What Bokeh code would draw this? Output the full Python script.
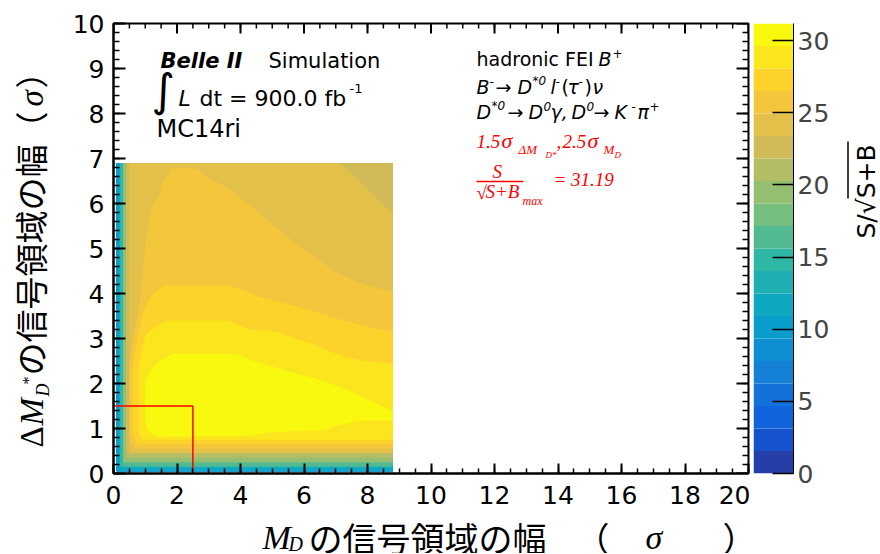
import math
from bokeh.plotting import figure
from bokeh.models import Range1d, Label, FixedTicker
from bokeh.layouts import row, column
from bokeh.embed import file_html
from bokeh.resources import INLINE

# ---------------- data ----------------
x_ticks = [0, 2, 4, 6, 8, 10, 12, 14, 16, 18, 20]
y_ticks = [0, 1, 2, 3, 4, 5, 6, 7, 8, 9, 10]
z_ticks = [0, 5, 10, 15, 20, 25, 30]

md_lo, md_hi = 0.1, 8.8          # M_D window scan range (sigma)
dmd_lo, dmd_hi = 0.05, 6.9       # Delta M_D* window scan range (sigma)
z_max = 31.19                    # maximum S/sqrt(S+B)
n_bands = 20                     # contour levels of the colour scale
best_md = 2.5
best_dmd = 1.5

# lower-left edge of the region where S/sqrt(S+B) >= level k (k = 0..15)
edge_left_x = [0.1, 0.1, 0.1, 0.1, 0.1, 0.1, 0.1, 0.2, 0.2, 0.2, 0.3, 0.3, 0.3, 0.4, 0.4, 0.5]
edge_bottom_y = [0.05, 0.05, 0.05, 0.05, 0.05, 0.05, 0.05, 0.05, 0.15, 0.15, 0.15, 0.25, 0.25, 0.35, 0.45, 0.45]

# top-right corner that stays below level 15
corner14_x = [7.1, 8.8, 8.8, 8.5, 8.0, 7.46]
corner14_y = [6.9, 6.9, 5.81, 5.96, 6.33, 6.7]

# contours of the regions above levels 16..19
c16_x = [0.5, 0.5, 0.6, 0.7, 0.8, 0.9, 1.0, 1.1, 1.2, 1.3, 1.45, 1.55, 1.7, 1.78, 2.62, 2.9, 3.4, 3.85,
         4.35, 4.85, 5.4, 6.15, 7.0, 7.7, 8.3, 8.8, 8.8, 0.7, 0.6]
c16_y = [0.75, 2.4, 2.9, 3.3, 3.6, 4.3, 5.1, 5.6, 5.9, 6.05, 6.2, 6.5, 6.62, 6.78, 6.78, 6.6, 6.42, 6.2,
         5.95, 5.62, 5.3, 4.9, 4.48, 4.25, 4.12, 4.03, 0.55, 0.55, 0.62]
c17_x = [0.6, 0.6, 0.7, 0.8, 0.9, 1.0, 1.15, 1.35, 1.6, 3.65, 4.0, 4.6, 5.45, 6.2, 6.75, 7.45, 7.8, 8.3,
         8.8, 8.8, 0.8, 0.7]
c17_y = [0.85, 2.4, 2.8, 3.15, 3.45, 3.7, 3.9, 4.05, 4.18, 4.18, 4.1, 3.92, 3.77, 3.62, 3.5, 3.36, 3.29,
         3.22, 3.15, 0.65, 0.65, 0.72]
c18_x = [0.8, 0.8, 0.9, 1.0, 1.2, 1.45, 1.7, 3.6, 4.3, 5.15, 5.7, 6.3, 6.75, 7.15, 7.8, 8.5, 8.8, 8.8,
         0.95, 0.85]
c18_y = [0.95, 2.4, 2.8, 3.05, 3.2, 3.32, 3.4, 3.4, 3.2, 3.15, 3.0, 2.88, 2.73, 2.62, 2.51, 2.46, 2.43,
         0.75, 0.75, 0.82]
c19_x = [1.0, 1.0, 1.1, 1.25, 1.45, 1.7, 1.9, 3.6, 4.0, 4.4, 5.0, 5.6, 6.3, 6.9, 7.4, 7.9, 8.3, 8.8, 8.8,
         7.7, 7.1, 6.6, 5.0, 4.3, 1.4, 1.2, 1.05]
c19_y = [1.15, 2.0, 2.2, 2.35, 2.5, 2.6, 2.66, 2.66, 2.62, 2.5, 2.38, 2.25, 2.12, 1.98, 1.85, 1.68, 1.55,
         1.38, 1.18, 1.18, 1.07, 0.96, 0.92, 0.84, 0.82, 0.88, 1.0]

# ---------------- style ----------------
band_colors = ["#263ea8", "#1652cd", "#1064dc", "#1272d9", "#1481d6", "#0e8fd1", "#099dcc", "#0fa8c1",
               "#1eafb3", "#2eb7a4", "#52ba92", "#76be7f", "#95be71", "#b3bd65", "#d1bb59", "#e3c049",
               "#f4c63b", "#fdd22b", "#fbe61d", "#f9f90f"]
SANS = "DejaVu Sans"
SERIF = "Liberation Serif"
CJK = "Noto Sans CJK JP"
RED = "#ff0000"
R = math.pi / 2
# shift (in em) that puts the label anchor on the alphabetic baseline
BASE_CORR = {SANS: 0.36, SERIF: 0.36, CJK: 0.41}

# page layout (pixels)
PAGE_H = 553
YT_W = 58                 # column holding the y title
MAIN_H = 520
FL, FR, FT, FB = 113, 748, 23, 473   # main frame on the page (shared by the row)
MAIN_W = FR + 2 - YT_W
XT_H = PAGE_H - MAIN_H    # strip holding the x title
CB_W = 88
CT_W = 42                 # strip holding the colour-bar title
X0 = YT_W                 # left page edge of main figure
CBL, CBR = 753, 793
CT0 = X0 + MAIN_W + CB_W


def text_fig(w, h, xr, yr):
    f = figure(width=w, height=h, output_backend="svg", toolbar_location=None,
               x_range=Range1d(*xr), y_range=Range1d(*yr),
               x_axis_location=None, y_axis_location=None,
               min_border_left=0, min_border_right=0, min_border_top=0, min_border_bottom=0)
    f.grid.visible = False
    f.outline_line_color = None
    f.background_fill_color = "white"
    f.border_fill_color = "white"
    return f


def lab(fig, text, x, y, size, font=SANS, style="normal", color="black", angle=0.0):
    c = BASE_CORR.get(font, 0.36) * size
    xo, yo = (-c, 0) if angle else (0, c)
    fig.add_layout(Label(x=x, y=y, text=text, text_font=font, text_font_size=f"{size}px",
                         text_font_style=style, text_color=color, angle=angle, text_align="left",
                         text_baseline="alphabetic", x_offset=xo, y_offset=yo))


# ---------------- main plot ----------------
p = figure(width=MAIN_W, height=MAIN_H, output_backend="svg", toolbar_location=None,
           x_range=Range1d(0, 20), y_range=Range1d(0, 10),
           min_border_left=FL - X0, min_border_right=X0 + MAIN_W - FR, min_border_top=FT,
           min_border_bottom=MAIN_H - FB)
p.background_fill_color = "white"
p.border_fill_color = "white"
p.grid.visible = False
p.outline_line_color = "black"
p.outline_line_width = 2

x_minor = [i * 0.5 for i in range(41)]
y_minor = [i * 0.2 for i in range(51)]
PX_X = (FR - FL) / 20.0   # pixels per x unit
PX_Y = (FB - FT) / 10.0   # pixels per y unit

for ax, ticks, minor, mj, mn in [(p.xaxis[0], x_ticks, x_minor, 10, 5), (p.yaxis[0], y_ticks, y_minor, 12, 6)]:
    ax.ticker = FixedTicker(ticks=ticks, minor_ticks=minor)
    ax.axis_line_width = 2
    ax.major_tick_in = mj
    ax.major_tick_out = 0
    ax.minor_tick_in = mn
    ax.minor_tick_out = 0
    ax.major_tick_line_width = 2
    ax.minor_tick_line_width = 1.5
    ax.major_label_text_font = SANS
    ax.major_label_text_font_size = "25px"
    ax.major_label_text_color = "black"
p.xaxis.major_label_standoff = 12
p.yaxis.major_label_standoff = 9

# heat map drawn as filled contour levels
for k in range(len(edge_left_x)):
    p.quad(left=[edge_left_x[k]], right=[md_hi], bottom=[edge_bottom_y[k]], top=[dmd_hi],
           fill_color=band_colors[k], line_color=None)
p.patch(corner14_x, corner14_y, fill_color=band_colors[14], line_color=None)
for k, (cx_, cy_) in zip([16, 17, 18, 19], [(c16_x, c16_y), (c17_x, c17_y), (c18_x, c18_y), (c19_x, c19_y)]):
    p.patch(cx_, cy_, fill_color=band_colors[k], line_color=None)

# tick marks on the top and right frame edges
p.segment(x0=x_ticks, y0=[10] * len(x_ticks), x1=x_ticks, y1=[10 - 10 / PX_Y] * len(x_ticks),
          line_color="black", line_width=2)
p.segment(x0=x_minor, y0=[10] * len(x_minor), x1=x_minor, y1=[10 - 5 / PX_Y] * len(x_minor),
          line_color="black", line_width=1.5)
p.segment(x0=[20] * len(y_ticks), y0=y_ticks, x1=[20 - 12 / PX_X] * len(y_ticks), y1=y_ticks,
          line_color="black", line_width=2)
p.segment(x0=[20] * len(y_minor), y0=y_minor, x1=[20 - 6 / PX_X] * len(y_minor), y1=y_minor,
          line_color="black", line_width=1.5)

# optimal cut
p.line([0, best_md, best_md], [best_dmd, best_dmd, 0], line_color="red", line_width=1.5)


def mx(px):
    return (px - FL) / PX_X


def my(py):
    return (FB - py) / PX_Y


def plab(text, px, py, size, **kw):
    lab(p, text, mx(px), my(py), size, **kw)


# Belle II block
plab("Belle II", 160, 68, 21, style="bold italic")
plab("Simulation", 268, 68, 21)
plab("∫", 151, 106, 45)
plab("L", 178, 106, 22, style="italic")
plab("dt = 900.0 fb", 199, 106, 22)
plab("-1", 349, 93, 13)
plab("MC14ri", 156, 137, 24)

# decay description
plab("hadronic FEI", 476, 65, 19)
plab("B", 598, 65, 19, style="italic")
plab("+", 612, 57, 12)
L2, L2S = 93, 85
for t, x, sup, st in [("B", 476, 0, "italic"), ("-", 489, 1, "normal"), ("→", 495, 0, "normal"),
                      ("D", 517, 0, "italic"), ("*0", 532, 1, "italic"), ("l", 550, 0, "italic"),
                      ("-", 555, 1, "normal"), ("(", 561, 0, "normal"), ("τ", 567, 0, "italic"),
                      ("-", 578, 1, "normal"), (")", 584, 0, "normal"), ("ν", 592, 0, "italic")]:
    plab(t, x, L2S if sup else L2, 12 if sup else 19, style=st)
L3, L3S = 118, 110
for t, x, sup, st in [("D", 476, 0, "italic"), ("*0", 491, 1, "italic"), ("→", 507, 0, "normal"),
                      ("D", 528, 0, "italic"), ("0", 543, 1, "italic"), ("γ,", 550, 0, "italic"),
                      ("D", 571, 0, "italic"), ("0", 586, 1, "italic"), ("→", 593, 0, "normal"),
                      ("K", 614, 0, "italic"), ("-", 631, 1, "normal"), ("π", 637, 0, "italic"),
                      ("+", 649, 1, "normal")]:
    plab(t, x, L3S if sup else L3, 12 if sup else 19, style=st)

# red optimum summary
for t, x, y, s in [("1.5", 476, 148, 19), ("σ", 501, 148, 22), ("ΔM", 518, 154, 13), ("D*", 545, 158, 9),
                   (",", 556, 148, 19), ("2.5", 562, 148, 19), ("σ", 587, 148, 22), ("M", 603, 154, 13),
                   ("D", 614, 158, 9), ("S", 492, 178, 19), ("√", 476, 199, 19), ("S+B", 485, 198, 19),
                   ("max", 522, 205, 12), ("= 31.19", 553, 186, 19)]:
    plab(t, x, y, s, font=SERIF, style="italic", color=RED)
p.line([mx(476), mx(523)], [my(181), my(181)], line_color=RED, line_width=1.5)

# ---------------- axis titles ----------------
# x title strip: its frame is aligned with the main frame horizontally
xt = text_fig(MAIN_W, XT_H, (FL, FR), (PAGE_H, MAIN_H))
lab(xt, "M", 262, 549, 34, font=SERIF, style="italic")
lab(xt, "D", 288, 551, 20, font=SERIF, style="italic")
lab(xt, "の信号領域の幅", 308, 551, 34, font=CJK)
lab(xt, "（", 575, 551, 34, font=CJK)
lab(xt, "σ", 645, 549, 34, font=SERIF, style="italic")
lab(xt, "）", 722, 551, 34, font=CJK)

# y title strip: its frame is aligned with the main frame vertically
yt = text_fig(YT_W, PAGE_H, (0, YT_W), (FB, FT))
lab(yt, "Δ", 43, 447, 33, font=SERIF, angle=R)
lab(yt, "M", 43, 425, 33, font=SERIF, style="italic", angle=R)
lab(yt, "D", 49, 396, 18, font=SERIF, style="italic", angle=R)
lab(yt, "*", 34, 384, 16, font=SERIF, angle=R)
lab(yt, "の信号領域の幅（", 43, 375, 33, font=CJK, angle=R)
lab(yt, "σ", 43, 106, 33, font=SERIF, style="italic", angle=R)
lab(yt, "）", 43, 88, 33, font=CJK, angle=R)

# ---------------- colour bar ----------------
cb = figure(width=CB_W, height=PAGE_H, output_backend="svg", toolbar_location=None,
            x_range=Range1d(0, 1), y_range=Range1d(0, z_max), y_axis_location="right",
            min_border_left=CBL - (X0 + MAIN_W), min_border_right=(X0 + MAIN_W + CB_W) - CBR,
            min_border_top=FT, min_border_bottom=PAGE_H - FB)
cb.grid.visible = False
cb.xaxis.visible = False
cb.outline_line_color = None
cb.background_fill_color = "white"
cb.border_fill_color = "white"
band_edges = [z_max * k / n_bands for k in range(n_bands + 1)]
cb.quad(left=0, right=1, bottom=band_edges[:-1], top=band_edges[1:], fill_color=band_colors,
        line_color=None)
cax = cb.yaxis[0]
cax.ticker = FixedTicker(ticks=z_ticks, minor_ticks=[])
cax.axis_line_color = "black"
cax.axis_line_width = 1
cax.major_tick_in = 21
cax.major_tick_out = 0
cax.minor_tick_line_color = None
cax.major_tick_line_width = 1.5
cax.major_label_text_font = SANS
cax.major_label_text_font_size = "25px"
cax.major_label_standoff = 4

ct = text_fig(CT_W, PAGE_H, (CT0, CT0 + CT_W), (FB, FT))
lab(ct, "S/√S+B", 875, 238, 25, angle=R)
ct.line([847.5, 847.5], [141, 198], line_color="black", line_width=1.5)

layout = row(yt, column(p, xt), cb, ct)
open("out.html", "w").write(file_html(layout, INLINE))
